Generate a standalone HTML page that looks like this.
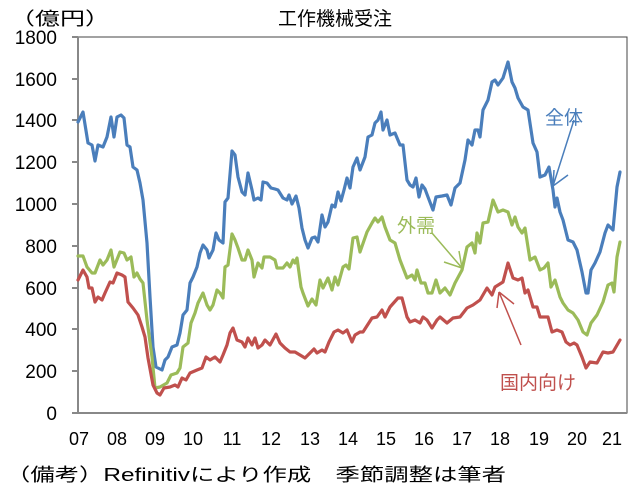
<!DOCTYPE html>
<html><head><meta charset="utf-8"><style>
body{margin:0;background:#fff;}
svg{display:block;}
text{font-family:"Liberation Sans","Noto Sans CJK JP",sans-serif;fill:#000;}
</style></head><body>
<svg width="642" height="494" viewBox="0 0 642 494" xmlns="http://www.w3.org/2000/svg">
<rect x="0" y="0" width="642" height="494" fill="#fff"/>
<rect x="78" y="37" width="549" height="376" fill="none" stroke="#444" stroke-width="1"/>
<line x1="78" y1="37" x2="78" y2="413" stroke="#888" stroke-width="2"/>
<line x1="72" y1="413" x2="627" y2="413" stroke="#888" stroke-width="2"/>
<g stroke="#888" stroke-width="2">
<line x1="72" y1="37" x2="78" y2="37"/><line x1="72" y1="79" x2="78" y2="79"/><line x1="72" y1="120" x2="78" y2="120"/><line x1="72" y1="162" x2="78" y2="162"/><line x1="72" y1="204" x2="78" y2="204"/><line x1="72" y1="246" x2="78" y2="246"/><line x1="72" y1="288" x2="78" y2="288"/><line x1="72" y1="329" x2="78" y2="329"/><line x1="72" y1="371" x2="78" y2="371"/>
</g>
<g font-size="19" text-anchor="end">
<text x="57" y="44">1800</text><text x="57" y="86">1600</text><text x="57" y="127">1400</text><text x="57" y="169">1200</text><text x="57" y="211">1000</text><text x="57" y="253">800</text><text x="57" y="295">600</text><text x="57" y="336">400</text><text x="57" y="378">200</text><text x="57" y="420">0</text>
</g>
<g font-size="18" text-anchor="middle">
<text x="79" y="445">07</text><text x="117" y="445">08</text><text x="155" y="445">09</text><text x="193" y="445">10</text><text x="232" y="445">11</text><text x="271" y="445">12</text><text x="310" y="445">13</text><text x="348" y="445">14</text><text x="386" y="445">15</text><text x="424" y="445">16</text><text x="462" y="445">17</text><text x="500" y="445">18</text><text x="539" y="445">19</text><text x="577" y="445">20</text><text x="612" y="445">21</text>
</g>
<text x="10" y="25" font-size="18" textLength="100" lengthAdjust="spacingAndGlyphs">（億円）</text>
<text x="335" y="25" font-size="19" text-anchor="middle">工作機械受注</text>
<text x="6" y="481" font-size="18" textLength="500" lengthAdjust="spacingAndGlyphs">（備考）Refinitivにより作成　季節調整は筆者</text>
<g fill="none" stroke-width="3.2" stroke-linejoin="round" stroke-linecap="round">
<polyline stroke="#4a7ebb" points="78,122 83,112 88,143 92,145 95,161 98,145 103,147 107,137 111,117 114,137 117,117 121,115 124,118 127,145 130,147 133,167 137,170 140,183 143,200 147,243 150,297 153,347 156,367 162,370 165,360 168,357 172,347 177,345 180,333 183,315 187,310 190,283 193,277 197,267 200,253 203,245 207,250 209,258 213,250 216,233 219,240 223,243 225,202 228,198 232,151 235,155 238,177 242,192 245,195 248,173 252,190 254,200 258,198 261,200 263,182 267,183 271,188 275,189 278,190 283,198 287,200 289,195 292,204 296,196 299,208 302,228 305,240 308,248 312,238 315,237 318,242 322,215 325,227 328,222 332,205 335,207 338,192 341,201 344,190 347,178 350,188 353,167 357,158 360,170 365,157 368,137 372,135 375,123 378,120 381,112 383,130 387,120 390,135 395,133 400,145 403,145 407,180 410,185 413,187 416,178 419,197 422,185 425,189 428,197 433,210 436,197 442,196 447,195 451,205 455,188 460,183 465,160 468,140 472,145 475,130 478,130 480,137 483,110 488,100 492,82 495,80 498,85 503,78 508,62 512,82 515,88 518,98 523,107 528,110 533,143 537,152 540,177 545,175 549,167 553,190 555,207 557,198 560,212 563,220 568,240 573,242 577,250 582,272 586,293 588,293 591,270 595,263 600,252 605,233 608,225 613,230 617,187 620,172"/>
<polyline stroke="#9bbb59" points="78,256 83,256 87,267 92,273 95,273 100,260 103,265 107,260 111,250 114,267 120,252 124,253 127,260 131,257 134,277 137,273 140,279 143,283 147,320 152,357 155,388 160,387 167,383 171,375 177,373 180,368 183,347 188,343 191,323 195,313 198,303 203,293 207,305 210,310 213,305 217,290 220,293 223,298 225,267 228,265 232,234 235,240 238,248 242,260 245,260 248,250 252,260 254,277 258,263 262,268 264,257 270,257 275,260 277,268 283,268 287,263 290,267 293,260 295,263 297,258 301,287 303,293 308,306 312,299 316,305 320,280 323,288 328,278 332,290 335,277 338,285 343,267 346,265 349,269 353,238 357,237 360,252 367,232 372,223 375,218 378,222 382,217 385,227 390,240 395,243 400,260 407,278 412,275 415,280 417,270 421,283 425,283 428,293 432,293 436,280 440,293 445,288 450,295 455,283 462,270 467,247 472,243 475,253 477,233 480,243 483,223 488,222 493,200 498,212 503,210 508,212 512,225 515,217 518,227 522,233 525,228 530,260 535,257 540,270 544,268 548,263 551,287 555,280 560,297 563,303 568,310 573,313 578,320 583,332 587,335 591,323 597,315 603,302 608,285 612,283 614,292 617,257 620,242"/>
<polyline stroke="#c0504d" points="78,280 83,270 87,277 89,288 92,288 95,302 98,297 102,300 105,293 110,282 113,283 117,273 122,275 125,277 128,302 133,308 138,315 142,327 145,337 148,358 153,385 157,393 160,395 164,388 170,387 175,385 178,387 182,378 186,380 190,373 197,370 202,368 206,357 210,360 215,357 220,362 223,355 227,345 230,333 233,328 237,340 242,342 245,347 248,338 252,345 255,338 258,348 262,345 265,340 270,345 276,334 280,343 285,348 290,352 295,352 300,355 305,358 310,353 314,349 317,353 322,350 325,352 329,342 334,332 338,330 343,333 347,330 352,342 355,335 360,332 363,332 372,318 377,317 382,310 385,317 390,307 398,298 402,298 407,317 410,322 415,320 420,323 423,317 427,320 432,328 437,320 440,317 447,323 453,318 460,317 467,308 473,305 480,300 487,288 492,295 495,287 503,282 508,263 513,278 518,280 522,278 525,293 528,290 533,307 537,307 540,317 543,317 548,317 552,332 557,330 562,332 566,342 570,345 574,343 577,345 582,357 586,368 590,362 597,363 603,352 608,353 613,352 620,340"/>
</g>
<g fill="none" stroke-width="1.5">
<path stroke="#4a7ebb" d="M574,120 L553,186 M553,186 L568,175 M553,186 L554,170"/>
<path stroke="#9bbb59" d="M432,233 L462,268 M462,268 L444,262 M462,268 L459,251"/>
<path stroke="#c0504d" d="M521,345 L499,292 M499,292 L497,308 M499,292 L514,304"/>
</g>
<text x="545" y="124" font-size="19" style="fill:#4a7ebb">全体</text>
<text x="397" y="232" font-size="19" style="fill:#9bbb59">外需</text>
<text x="500" y="389" font-size="19" style="fill:#c0504d">国内向け</text>
</svg>
</body></html>
